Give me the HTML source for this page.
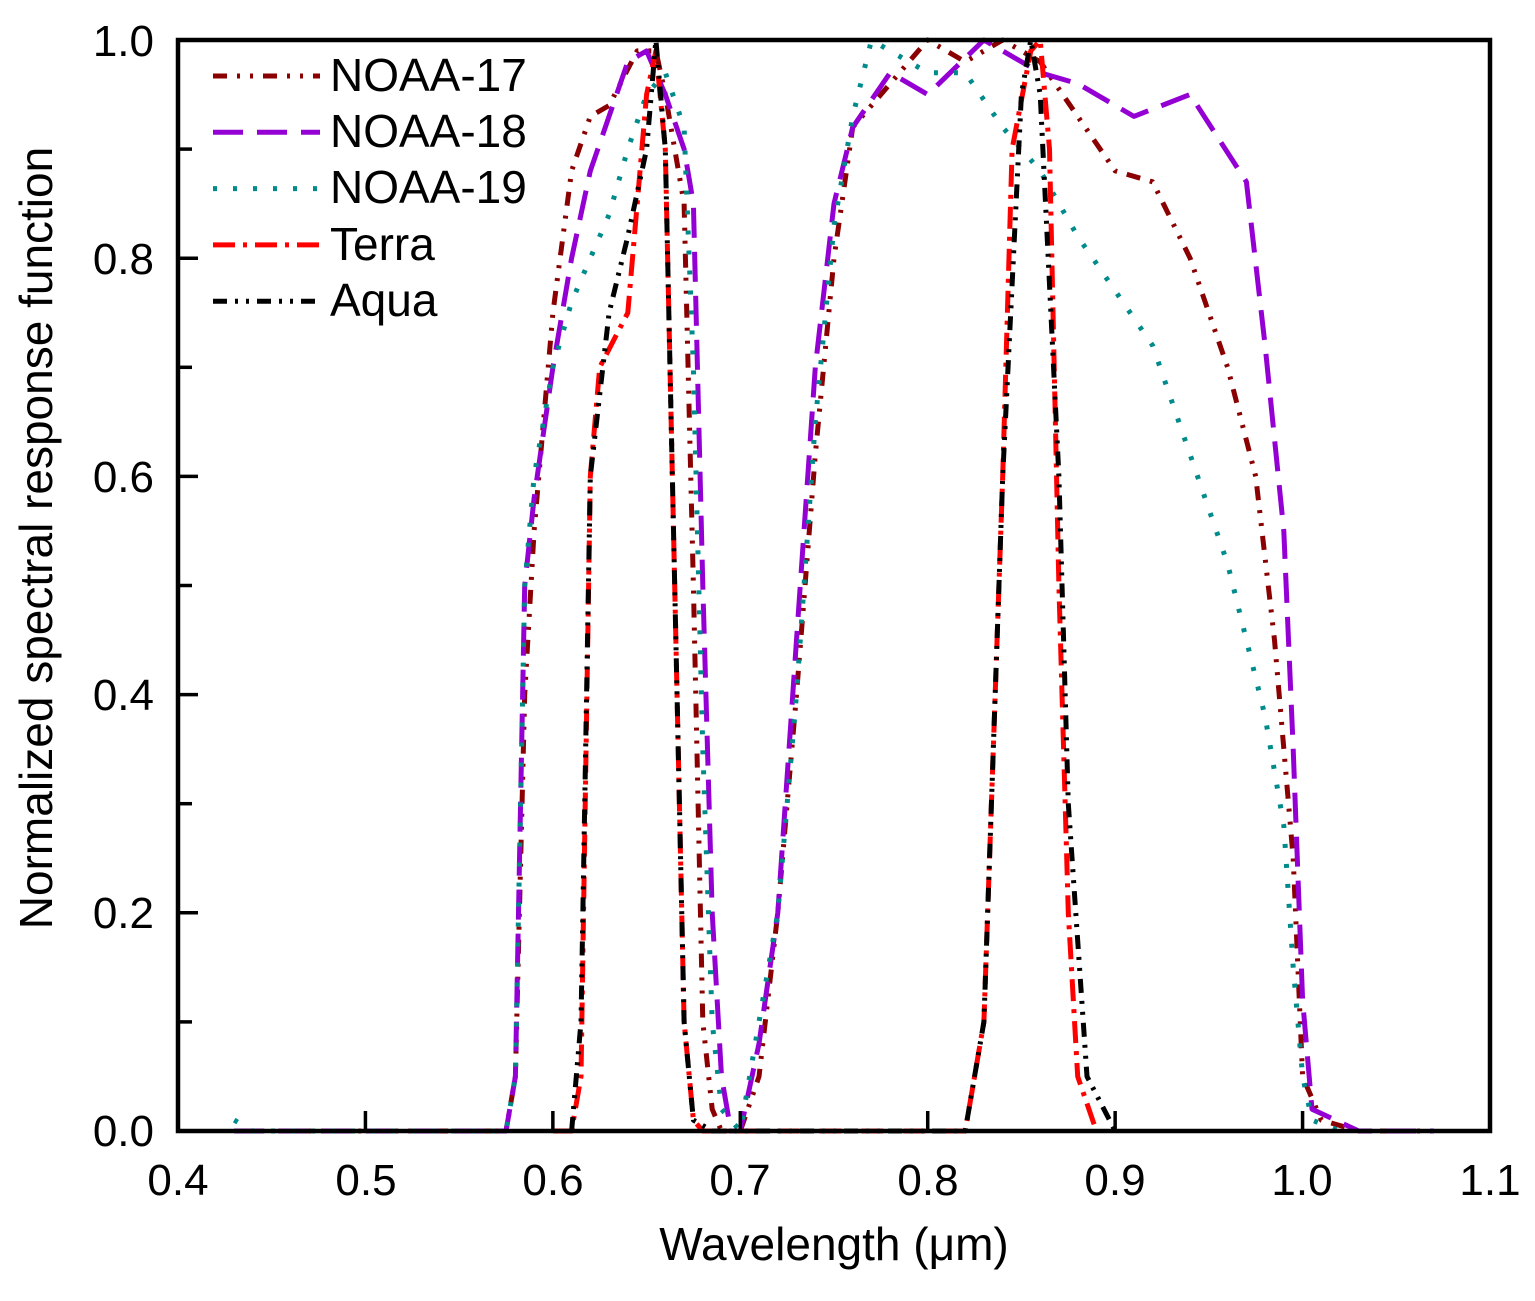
<!DOCTYPE html>
<html><head><meta charset="utf-8"><style>
html,body{margin:0;padding:0;background:#fff;}
svg{display:block;font-family:"Liberation Sans",Arial,sans-serif;}
</style></head><body>
<svg id="s" width="1535" height="1301" viewBox="0 0 1535 1301" xmlns="http://www.w3.org/2000/svg">
<rect width="1535" height="1301" fill="#fff"/>
<g id="curves" fill="none" stroke-width="5"></g>
<rect x="178" y="40" width="1312" height="1091" fill="none" stroke="#000" stroke-width="4.5"/>
<g id="ticks" stroke="#000" stroke-width="3.5"></g>
<g font-size="44" fill="#000">
<text x="154" y="1146" text-anchor="end">0.0</text>
<text x="154" y="928" text-anchor="end">0.2</text>
<text x="154" y="710" text-anchor="end">0.4</text>
<text x="154" y="492" text-anchor="end">0.6</text>
<text x="154" y="274" text-anchor="end">0.8</text>
<text x="154" y="56" text-anchor="end">1.0</text>
<g text-anchor="middle">
<text x="178" y="1195">0.4</text><text x="366" y="1195">0.5</text><text x="553" y="1195">0.6</text><text x="740" y="1195">0.7</text><text x="928" y="1195">0.8</text><text x="1115" y="1195">0.9</text><text x="1302" y="1195">1.0</text><text x="1490" y="1195">1.1</text>
</g>
</g>
<g font-size="46" fill="#000">
<text x="834" y="1260" text-anchor="middle">Wavelength (μm)</text>
<text transform="translate(52,538) rotate(-90)" text-anchor="middle">Normalized spectral response function</text>
</g>
<g id="legend" font-size="46" fill="#000">
<text x="330" y="91">NOAA-17</text>
<text x="330" y="147">NOAA-18</text>
<text x="330" y="203">NOAA-19</text>
<text x="330" y="260">Terra</text>
<text x="330" y="316">Aqua</text>
</g>
</svg>
<script>
var X=function(w){return 178+(w-0.4)*1874.3;},Y=function(v){return 1131-v*1091;};
var ns="http://www.w3.org/2000/svg";
var series=[
{c:"#8b0000",d:"14 10 3 10 3 10",p:[[0.43,0],[0.575,0],[0.58,0.05],[0.585,0.4],[0.59,0.55],[0.595,0.65],[0.6,0.75],[0.61,0.88],[0.62,0.93],[0.63,0.94],[0.645,0.99],[0.655,0.99],[0.66,0.95],[0.665,0.9],[0.67,0.85],[0.675,0.5],[0.68,0.1],[0.685,0.02],[0.69,0],[0.7,0],[0.71,0.05],[0.72,0.2],[0.73,0.4],[0.74,0.62],[0.75,0.8],[0.76,0.92],[0.78,0.96],[0.8,1.0],[0.82,0.98],[0.84,1.0],[0.86,0.98],[0.88,0.93],[0.9,0.88],[0.92,0.87],[0.94,0.8],[0.96,0.7],[0.975,0.6],[0.985,0.45],[0.995,0.25],[1.0,0.05],[1.01,0.01],[1.03,0],[1.07,0]]},
{c:"#9400d3",d:"30 14",p:[[0.43,0],[0.575,0],[0.58,0.05],[0.585,0.5],[0.59,0.58],[0.6,0.7],[0.61,0.8],[0.62,0.88],[0.64,0.98],[0.65,0.99],[0.66,0.95],[0.67,0.9],[0.675,0.85],[0.68,0.5],[0.685,0.2],[0.69,0.05],[0.695,0],[0.7,0],[0.71,0.08],[0.72,0.2],[0.73,0.45],[0.74,0.7],[0.75,0.85],[0.76,0.92],[0.78,0.97],[0.8,0.95],[0.83,1.0],[0.86,0.97],[0.88,0.96],[0.91,0.93],[0.94,0.95],[0.97,0.87],[0.98,0.72],[0.99,0.55],[0.995,0.35],[1.0,0.12],[1.005,0.02],[1.03,0],[1.07,0]]},
{c:"#008b8b",d:"4 16",p:[[0.43,0.01],[0.44,0],[0.575,0],[0.58,0.05],[0.585,0.5],[0.59,0.6],[0.6,0.7],[0.61,0.76],[0.62,0.8],[0.63,0.84],[0.64,0.9],[0.65,0.95],[0.66,0.97],[0.67,0.92],[0.675,0.7],[0.68,0.35],[0.685,0.1],[0.69,0.02],[0.7,0],[0.71,0.1],[0.72,0.2],[0.73,0.4],[0.74,0.65],[0.75,0.83],[0.76,0.93],[0.77,1.0],[0.8,0.97],[0.82,0.97],[0.84,0.92],[0.86,0.88],[0.88,0.82],[0.9,0.77],[0.92,0.72],[0.94,0.62],[0.96,0.52],[0.97,0.45],[0.98,0.38],[0.99,0.28],[0.995,0.15],[1.0,0.05],[1.005,0.01],[1.02,0]]},
{c:"#ff0000",d:"22 8 4 8",p:[[0.6,0],[0.61,0],[0.615,0.05],[0.62,0.6],[0.625,0.7],[0.64,0.75],[0.645,0.85],[0.65,0.95],[0.655,0.99],[0.66,0.9],[0.665,0.5],[0.67,0.1],[0.675,0.01],[0.68,0],[0.82,0],[0.83,0.1],[0.84,0.6],[0.845,0.9],[0.855,0.99],[0.86,1.0],[0.865,0.9],[0.87,0.5],[0.875,0.2],[0.88,0.05],[0.89,0]]},
{c:"#000000",d:"14 8 3 8 3 8",p:[[0.61,0],[0.615,0.1],[0.62,0.6],[0.63,0.75],[0.64,0.82],[0.65,0.9],[0.655,1.0],[0.66,0.9],[0.665,0.5],[0.67,0.1],[0.675,0.01],[0.685,0],[0.82,0],[0.83,0.1],[0.84,0.6],[0.85,0.95],[0.855,1.0],[0.86,0.95],[0.87,0.6],[0.875,0.3],[0.885,0.05],[0.9,0]]}
];
var g=document.getElementById("curves");
series.forEach(function(s,i){
 var d=s.p.map(function(q,j){return (j?"L":"M")+X(q[0]).toFixed(1)+","+Y(q[1]).toFixed(1);}).join("");
 var e=document.createElementNS(ns,"path");e.setAttribute("d",d);e.setAttribute("stroke",s.c);e.setAttribute("stroke-dasharray",s.d);e.setAttribute("stroke-linejoin","round");g.appendChild(e);
 var l=document.createElementNS(ns,"line");var y=76+i*56.3;
 l.setAttribute("x1",213);l.setAttribute("x2",320);l.setAttribute("y1",y);l.setAttribute("y2",y);
 l.setAttribute("stroke",s.c);l.setAttribute("stroke-dasharray",s.d);l.setAttribute("stroke-width",5);g.appendChild(l);
});
var t=document.getElementById("ticks");
function ln(a,b,c,d){var e=document.createElementNS(ns,"line");e.setAttribute("x1",a);e.setAttribute("y1",b);e.setAttribute("x2",c);e.setAttribute("y2",d);t.appendChild(e);}
for(var k=0;k<=10;k++){var y=Y(k/10);ln(178,y,178+(k%2?14:20),y);}
for(var k=1;k<7;k++){var x=X(0.4+k/10);ln(x,1131,x,1111);}
</script>
</body></html>
